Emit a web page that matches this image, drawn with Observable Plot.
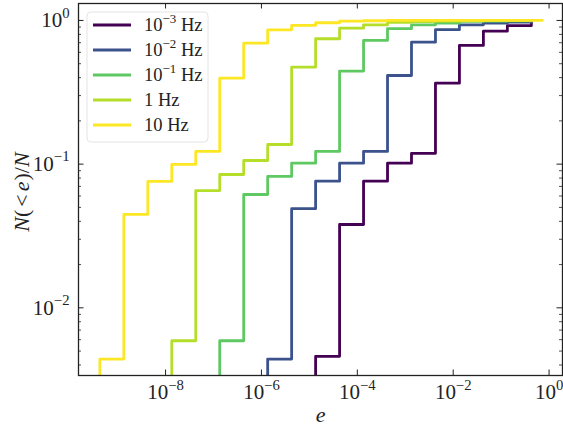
<!DOCTYPE html>
<html>
<head>
<meta charset="utf-8">
<script src="https://cdn.jsdelivr.net/npm/d3@7"></script>
<script src="https://cdn.jsdelivr.net/npm/@observablehq/plot@0.6"></script>
<style>
  body { margin: 0; background: #fff; }
  #chart svg { display: block; }
</style>
</head>
<body>
<div id="chart"></div>
<script>
// Cumulative eccentricity distributions N(<e)/N for several GW frequencies.
const seriesLabels = ["10^-3 Hz", "10^-2 Hz", "10^-1 Hz", "1 Hz", "10 Hz"];
const seriesColors = ["#440154", "#3b528b", "#5ec962", "#b5de2b", "#fde725"];

// log10 of the bin edges in e (half-decade bins, last edge = largest e)
const edgeExp = [-9.37, -8.87, -8.37, -7.87, -7.37, -6.87, -6.37, -5.87, -5.37, -4.87,
                 -4.37, -3.87, -3.37, -2.87, -2.37, -1.87, -1.37, -0.87, -0.37, -0.14];

// cumulative fraction at each edge (null = outside the series' range)
const cdf1mHz = [null, null, null, null, null, null, null, null, null, 0.0046,
                 0.038, 0.0761, 0.1016, 0.119, 0.366, 0.670, 0.842, 0.92, 0.97, null];
const cdf10mHz = [null, null, null, null, null, null, null, 0.0044, 0.049, 0.0761,
                  0.1016, 0.1226, 0.414, 0.706, 0.862, 0.933, 0.958, 0.973, 0.99, null];
const cdf100mHz = [null, null, null, null, null, 0.0059, 0.0615, 0.0821, 0.1016, 0.1226,
                   0.444, 0.726, 0.876, 0.933, 0.958, 0.984, 0.99, 0.995, 1.0, null];
const cdf1Hz = [null, null, null, 0.0059, 0.0655, 0.0847, 0.106, 0.137, 0.474, 0.746,
                0.884, 0.933, 0.97, 0.983, 0.99, 0.995, 1.0, 1.0, 1.0, null];
const cdf10Hz = [0.0044, 0.0447, 0.0758, 0.0995, 0.1226, 0.397, 0.695, 0.861, 0.923, 0.964,
                 0.989, 0.995, 1.0, 1.0, 1.0, 1.0, 1.0, 1.0, 1.0, 1.0];
const seriesValues = [cdf1mHz, cdf10mHz, cdf100mHz, cdf1Hz, cdf10Hz];

const xTicks = [1e-8, 1e-6, 1e-4, 1e-2, 1];
const yTicks = [1e-2, 1e-1, 1];

const xDomain = [Math.pow(10, -9.816), Math.pow(10, 0.28)];
const yDomain = [Math.pow(10, -2.471), Math.pow(10, 0.118)];

const W = 563, H = 426;
const mL = 78, mR = 1, mT = 3, mB = 51;
const plotW = W - mL - mR, plotH = H - mT - mB;
const FONT = "'Liberation Serif', 'DejaVu Serif', serif";
const TICK_FS = 21, LEG_FS = 18.5, LABEL_FS = 22;

// step outline rows: the outline rises from the axis floor at the first edge
const rows = [];
seriesValues.forEach((vals, si) => {
  const first = vals.findIndex(v => v != null);
  rows.push({e: Math.pow(10, edgeExp[first]), f: 0, s: seriesLabels[si]});
  vals.forEach((v, i) => {
    if (v != null) rows.push({e: Math.pow(10, edgeExp[i]), f: v, s: seriesLabels[si]});
  });
});

// minor ticks on the log y axis
const yMinor = [];
for (let k = -3; k <= 0; k++) for (let m = 2; m <= 9; m++) {
  const v = m * Math.pow(10, k);
  if (v > yDomain[0] && v < yDomain[1]) yMinor.push(v);
}

const major = 5.5, minor = 3;
const tickStyle = {stroke: "#222", strokeWidth: 1};

const chart = Plot.plot({
  width: W, height: H,
  marginLeft: mL, marginRight: mR, marginTop: mT, marginBottom: mB,
  style: {fontFamily: FONT, background: "#fff"},
  x: {type: "log", domain: xDomain},
  y: {type: "log", domain: yDomain},
  color: {domain: seriesLabels, range: seriesColors},
  marks: [
    Plot.line(rows, {
      x: "e", y: d => Math.max(d.f, yDomain[0]), z: "s", stroke: "s",
      curve: "step-after", strokeWidth: 2.8, clip: true
    }),
    // inward tick marks on all four sides
    Plot.ruleX(xTicks, {...tickStyle, insetTop: plotH - major}),
    Plot.ruleX(xTicks, {...tickStyle, insetBottom: plotH - major}),
    Plot.ruleY(yTicks, {...tickStyle, insetRight: plotW - major}),
    Plot.ruleY(yTicks, {...tickStyle, insetLeft: plotW - major}),
    Plot.ruleY(yMinor, {...tickStyle, strokeWidth: 0.8, insetRight: plotW - minor}),
    Plot.ruleY(yMinor, {...tickStyle, strokeWidth: 0.8, insetLeft: plotW - minor}),
    Plot.axisX(xTicks, {
      tickSize: 0, tickPadding: 9, fontSize: TICK_FS, label: null,
      tickFormat: d => "10^" + Math.round(Math.log10(d)), fill: "#222"
    }),
    Plot.axisY(yTicks, {
      tickSize: 0, tickPadding: 9, fontSize: TICK_FS, label: null,
      tickFormat: d => "10^" + Math.round(Math.log10(d)), fill: "#222"
    }),
    Plot.text(["e"], {frameAnchor: "bottom", lineAnchor: "middle", textAnchor: "middle",
                      dy: 39, fontSize: LABEL_FS, fill: "#222"}),
    Plot.text(["N(<e)/N"], {frameAnchor: "left", lineAnchor: "middle", textAnchor: "middle",
                            dx: -57, dy: 2.5, rotate: -90, fontSize: LABEL_FS, fill: "#222"}),
    Plot.frame({stroke: "#222", strokeWidth: 1.3})
  ]
});

document.getElementById("chart").appendChild(chart);
const svg = d3.select(chart);

// write "10^k" as a base with a raised exponent
function powerText(sel, str, size) {
  const m = str.match(/^(\d+)\^(-?\d+)(.*)$/);
  sel.text(null).attr("font-size", size).attr("font-family", FONT);
  if (!m) { sel.text(str); return; }
  const rise = size * 0.45;
  sel.append("tspan").text(m[1]);
  sel.append("tspan").attr("dy", -rise).attr("font-size", size * 0.7)
    .text(m[2].replace("-", "\u2212"));
  if (m[3]) sel.append("tspan").attr("dy", rise).text(m[3]);
}

svg.selectAll('g[aria-label="x-axis tick label"] text, g[aria-label="y-axis tick label"] text')
  .each(function () { powerText(d3.select(this), this.textContent, TICK_FS); });

// math-style axis labels: italic symbols, upright punctuation, spaced relation
function mathText(sel, parts) {
  sel.text(null).attr("font-size", LABEL_FS).attr("font-family", FONT);
  parts.forEach(([t, it, dx]) => {
    const ts = sel.append("tspan").attr("font-style", it ? "italic" : "normal").text(t);
    if (dx) ts.attr("dx", dx);
  });
}
svg.selectAll('g[aria-label="text"] text').each(function () {
  const t = this.textContent;
  if (t === "e") mathText(d3.select(this), [["e", true]]);
  if (t === "N(<e)/N") mathText(d3.select(this), [
    ["N", true], ["(", false], ["<", false, 3], ["e", true, 3], [")", false, 1], ["/", false], ["N", true]
  ]);
});

// legend in the upper-left corner of the axes
const leg = svg.append("g").attr("transform", "translate(87,12)")
  .attr("font-family", FONT).attr("text-anchor", "start");
leg.append("rect").attr("width", 121).attr("height", 130).attr("rx", 4)
  .attr("fill", "#fff").attr("fill-opacity", 0.8).attr("stroke", "#e4e4e4");
seriesLabels.forEach((lab, i) => {
  const y = 13 + 25 * i;
  leg.append("line").attr("x1", 6).attr("x2", 44).attr("y1", y).attr("y2", y)
    .attr("stroke", seriesColors[i]).attr("stroke-width", 2.8);
  const t = leg.append("text").attr("x", 57).attr("y", y + 6).attr("fill", "#222");
  powerText(t, lab, LEG_FS);
});
</script>
</body>
</html>
